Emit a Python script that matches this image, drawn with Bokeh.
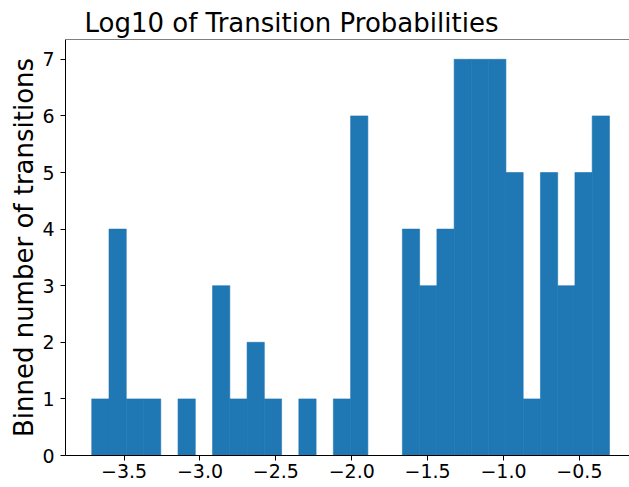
import numpy as np
from bokeh.plotting import figure
from bokeh.models import Range1d, FixedTicker, Span, ColumnDataSource
from bokeh.embed import file_html
from bokeh.resources import INLINE

# ---- data ----
bin_start = -3.713
bin_end = -0.302
counts = [1, 4, 1, 1, 0, 1, 0, 3, 1, 2,
          1, 0, 1, 0, 1, 6, 0, 0, 4, 3,
          4, 7, 7, 7, 5, 1, 5, 3, 5, 6]
x_ticks = [-3.5, -3.0, -2.5, -2.0, -1.5, -1.0, -0.5]
x_tick_labels = ["\u22123.5", "\u22123.0", "\u22122.5", "\u22122.0", "\u22121.5", "\u22121.0", "\u22120.5"]
y_ticks = [0, 1, 2, 3, 4, 5, 6, 7]

title_text = "Log10 of Transition Probabilities"
y_label = "Binned number of transitions"

edges = np.linspace(bin_start, bin_end, len(counts) + 1)
src = ColumnDataSource(dict(left=edges[:-1], right=edges[1:],
                            top=counts, bottom=[0] * len(counts)))

FONT = "DejaVu Sans"

p = figure(width=629, height=487, output_backend="svg", toolbar_location=None,
           x_range=Range1d(-3.886, -0.170), y_range=Range1d(0, 7.35),
           min_border_left=65, min_border_right=0, min_border_top=39,
           min_border_bottom=32, title=title_text)

p.quad(left="left", right="right", top="top", bottom="bottom", source=src,
       fill_color="#1f77b4", line_color="#1f77b4", line_width=0.6)

p.outline_line_color = None
p.grid.visible = False
p.background_fill_color = "white"
p.border_fill_color = "white"

top_spine = Span(location=7.35, dimension="width", line_color="black", line_width=1)
p.add_layout(top_spine)

p.title.text_font = FONT
p.title.text_font_size = "26px"
p.title.text_font_style = "normal"
p.title.text_color = "black"
p.title.align = "left"
p.title.offset = 19
p.title.standoff = 4

for ax in (p.xaxis[0], p.yaxis[0]):
    ax.major_label_text_font = FONT
    ax.major_label_text_font_size = "19px"
    ax.major_label_text_color = "black"
    ax.axis_line_color = "black"
    ax.axis_line_width = 1
    ax.major_tick_line_color = "black"
    ax.major_tick_in = 0
    ax.major_tick_out = 5
    ax.minor_tick_line_color = None

p.xaxis[0].ticker = FixedTicker(ticks=x_ticks)
p.xaxis[0].major_label_overrides = {t: s for t, s in zip(x_ticks, x_tick_labels)}
p.xaxis[0].major_label_standoff = 3

p.yaxis[0].ticker = FixedTicker(ticks=y_ticks)
p.yaxis[0].major_label_standoff = 6
p.yaxis[0].axis_label = y_label
p.yaxis[0].axis_label_text_font = FONT
p.yaxis[0].axis_label_text_font_size = "26px"
p.yaxis[0].axis_label_text_font_style = "normal"
p.yaxis[0].axis_label_text_color = "black"
p.yaxis[0].axis_label_standoff = 0

open("out.html", "w").write(file_html(p, INLINE))
